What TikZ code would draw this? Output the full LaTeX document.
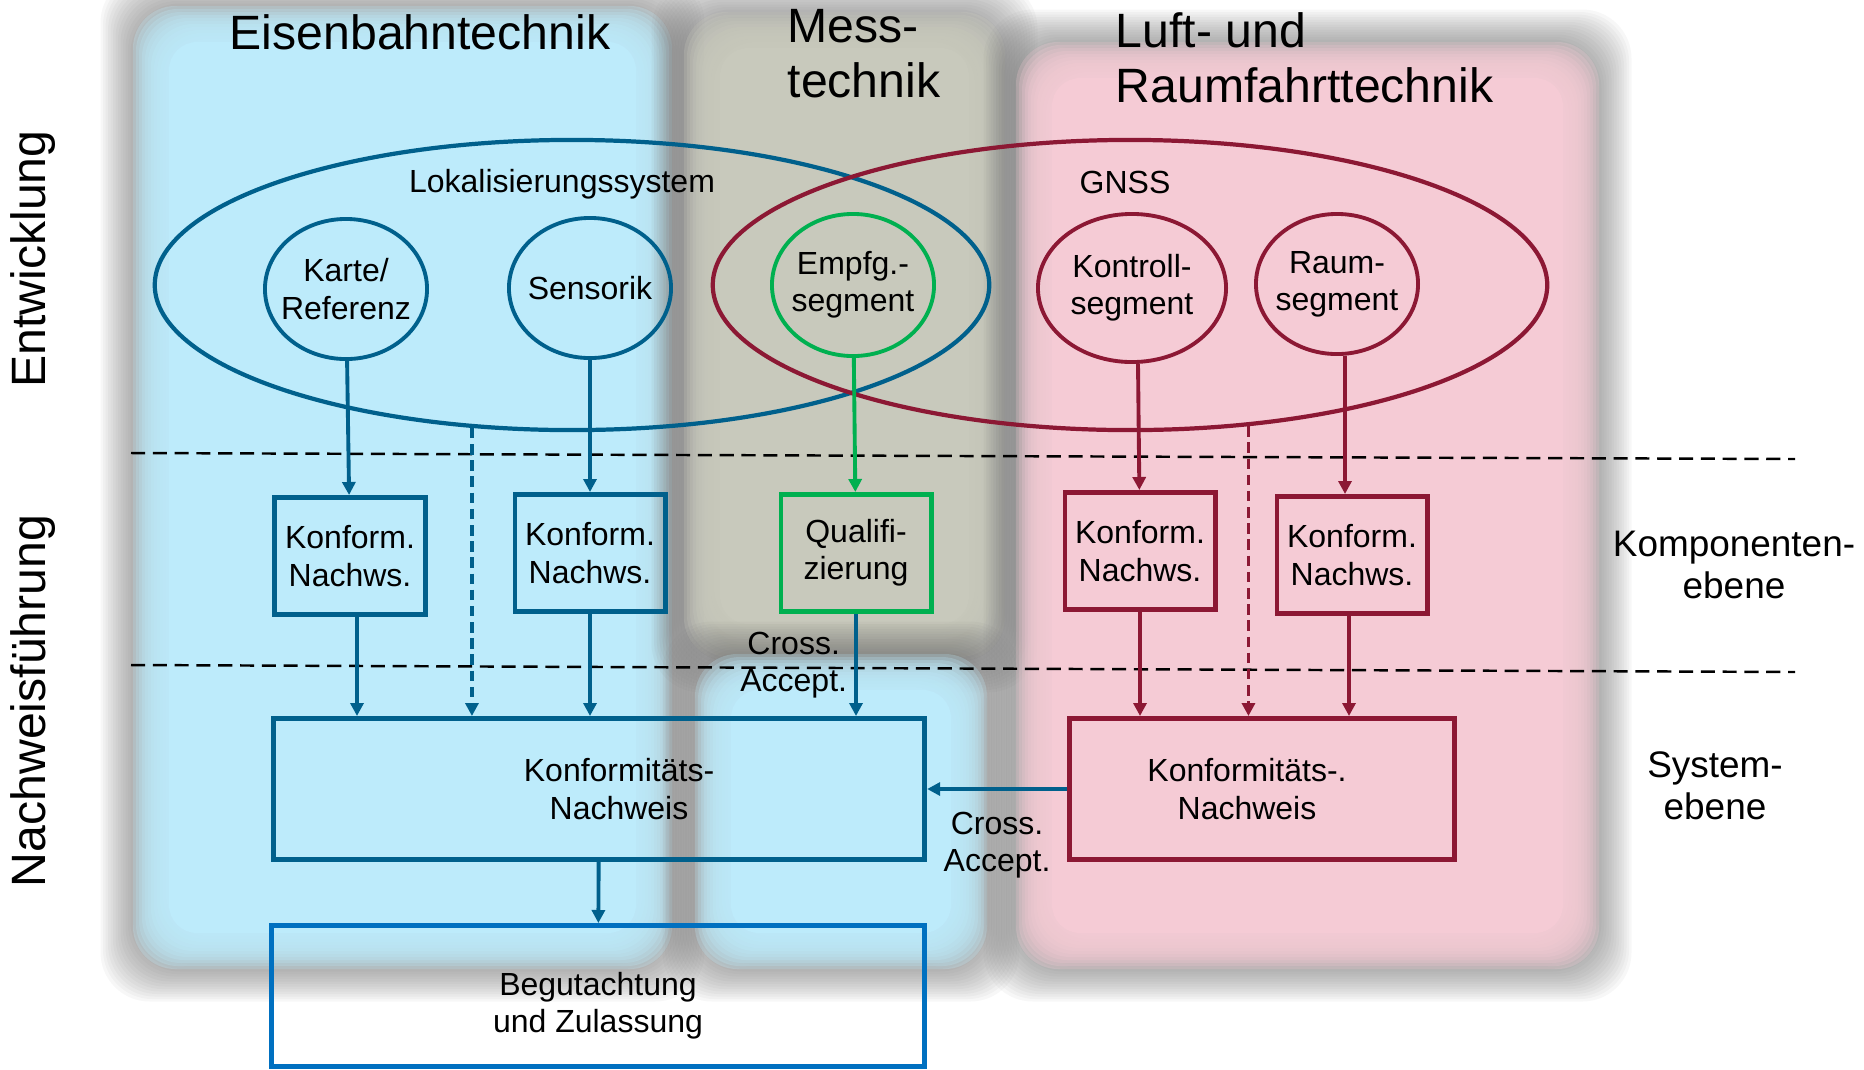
\documentclass[tikz,border=0pt]{standalone}
\usepackage{fontspec}
\setmainfont{Liberation Sans}
\usepackage{tikz}
\usetikzlibrary{arrows.meta,positioning,shapes.geometric,calc}
\definecolor{lineblue}{RGB}{0,96,140}
\definecolor{linered}{RGB}{140,24,52}
\definecolor{linegreen}{RGB}{0,176,80}
\definecolor{begblue}{RGB}{0,112,192}
\definecolor{panelblue}{RGB}{189,235,251}
\definecolor{panelgray}{RGB}{200,201,188}
\definecolor{panelpink}{RGB}{245,203,213}
\newcommand{\bgpanel}[5]{%
  \foreach \k in {0,...,15}
    \fill[black!60,opacity=0.05,rounded corners=14pt] ({#2-2.5*\k+5},{#3-2.5*\k+5}) rectangle ({#4+2.5*\k-5},{#5+2.5*\k-5});
  \foreach \k in {0,...,11}
    \fill[#1,opacity=0.26,rounded corners=12pt] ({#2+3*\k},{#3+3*\k}) rectangle ({#4-3*\k},{#5-3*\k});
  \fill[#1,rounded corners=8pt] ({#2+36},{#3+36}) rectangle ({#4-36},{#5-36});
}

\begin{document}
\begin{tikzpicture}[x=0.01cm,y=-0.01cm,
    head/.style={font=\fontsize{13.7}{15.6}\selectfont,align=left,inner sep=0pt},
    lvl/.style={font=\fontsize{10.5}{12}\selectfont,align=center},
    txt/.style={font=\fontsize{9.1}{10.6}\selectfont,align=center},
    sysell/.style={ellipse,draw,line width=1.2pt,inner sep=0pt,minimum width=8.34cm,minimum height=2.9cm},
    seg/.style={ellipse,draw,line width=1.1pt,inner sep=-3pt,minimum width=1.62cm,minimum height=1.4cm,txt},
    nachw/.style={draw,line width=1.4pt,minimum width=1.5cm,minimum height=1.17cm,inner sep=0pt,txt},
    arr/.style={-{Triangle[length=1.3mm,width=1.3mm]},line width=1.1pt},
    dasharrow/.style={arr,dash pattern=on 3pt off 1.6pt},
    sep/.style={line width=0.7pt,dash pattern=on 4pt off 2.2pt}]
  \useasboundingbox (0,0) rectangle (1864,1069);
  \clip (0,0) rectangle (1864,1069);
  \bgpanel{panelblue}{133}{6}{672}{969}
  \bgpanel{panelgray}{684}{12}{1005}{660}
  \bgpanel{panelblue}{695}{654}{987}{969}
  \bgpanel{panelpink}{1016}{42}{1599}{969}

  \node[head,anchor=center] (eisen) at (420,32) {Eisenbahntechnik};
  \node[head,anchor=west] (mess) at (787,54) {Mess-\\technik};
  \node[head,anchor=west] (luft) at (1115,58) {Luft- und\\Raumfahrttechnik};
  \node[head,rotate=90] (entw) at (33,259) {Entwicklung};
  \node[head,rotate=90] (nachf) at (33,701) {Nachweisführung};
  \node[lvl] (komp) at (1734,565) {Komponenten-\\ebene};
  \node[lvl] (sys) at (1715,786) {System-\\ebene};

  \draw[sep] (131,453) -- (1795,459);
  \draw[sep] (131,665) -- (1795,672);

  \node[sysell,draw=lineblue] (loc) at (572,285) {};
  \node[sysell,draw=linered] (gnss) at (1130,285) {};
  \node[txt] (loclab) at (562,184) {Lokalisierungssystem};
  \node[txt] (gnsslab) at (1125,182) {GNSS};

  \node[seg,draw=lineblue] (karte) at (346,289) {Karte/\\Referenz};
  \node[seg,draw=lineblue] (sens) at (590,288) {Sensorik};
  \node[seg,draw=linegreen,minimum height=1.42cm] (empf) at (853,285) {Empfg.-\\segment};
  \node[seg,draw=linered,minimum width=1.88cm,minimum height=1.48cm] (kontr) at (1132,288) {Kontroll-\\segment};
  \node[seg,draw=linered] (raum) at (1337,284) {Raum-\\segment};

  \node[nachw,draw=lineblue] (kb1) at (350,556) {Konform.\\Nachws.};
  \node[nachw,draw=lineblue] (kb2) at (590,553) {Konform.\\Nachws.};
  \node[nachw,draw=linegreen] (qual) at (856,553) {Qualifi-\\zierung};
  \node[nachw,draw=linered] (kr1) at (1140,551) {Konform.\\Nachws.};
  \node[nachw,draw=linered] (kr2) at (1352,555) {Konform.\\Nachws.};
  \node[nachw,draw=lineblue,minimum width=6.51cm,minimum height=1.41cm] (knb) at (599,789)
       {\hspace*{4mm}Konformitäts-\\\hspace*{4mm}Nachweis};
  \node[nachw,draw=linered,minimum width=3.85cm,minimum height=1.41cm] (knr) at (1262,789)
       {Konformitäts-.\hspace*{3mm}\\Nachweis\hspace*{3mm}};
  \node[nachw,draw=begblue,minimum width=6.52cm,minimum height=1.41cm] (beg) at (598,996) {};
  \node[txt] (begtxt) at (598,1006) {Begutachtung\\und Zulassung};

  \draw[arr,lineblue] (karte) -- (kb1);
  \draw[arr,lineblue] (sens) -- (kb2);
  \draw[arr,linegreen] (empf) -- (qual);
  \draw[arr,linered] ($(kontr.south)+(6,0)$) -- (kr1);
  \draw[arr,linered] ($(raum.south)+(8,0)$) -- ($(raum.south |- kr2.north)+(8,0)$);
  \draw[dasharrow,lineblue] (loc.235) -- (loc.235 |- knb.north);
  \draw[dasharrow,linered] (gnss.310) -- (gnss.310 |- knr.north);
  \draw[arr,lineblue] ($(kb1.south)+(7,0)$) -- ($(kb1.south |- knb.north)+(7,0)$);
  \draw[arr,lineblue] (kb2) -- (kb2 |- knb.north);
  \draw[arr,lineblue] (qual) -- (qual |- knb.north)
       node[midway,left,txt,inner sep=2pt,text=black] {Cross.\\Accept.};
  \draw[arr,linered] (kr1) -- (kr1 |- knr.north);
  \draw[arr,linered] ($(kr2.south)+(-3,0)$) -- ($(kr2.south |- knr.north)+(-3,0)$);
  \draw[arr,lineblue] (knr) -- (knb)
       node[midway,below=4pt,txt,inner sep=2pt,text=black] {Cross.\\Accept.};
  \draw[arr,lineblue] (knb) -- (beg);
\end{tikzpicture}
\end{document}
